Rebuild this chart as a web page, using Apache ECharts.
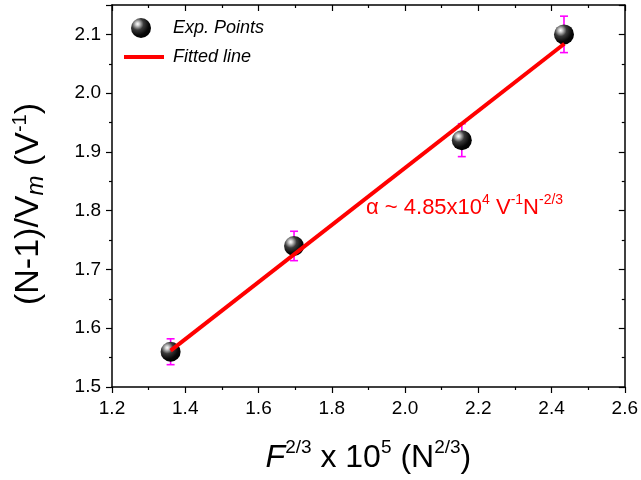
<!DOCTYPE html>
<html>
<head>
<meta charset="utf-8">
<script src="https://cdn.jsdelivr.net/npm/echarts@6/dist/echarts.min.js"></script>
<style>html,body{margin:0;padding:0;background:#fff}#c{width:641px;height:480px}</style>
</head>
<body>
<div id="c"></div>
<script>
// Data
var expX = [1.36, 1.697, 2.155, 2.434];
var expY = [1.56, 1.74, 1.92, 2.10];
var expErr = [0.022, 0.025, 0.028, 0.031];
var fitX = [1.36, 2.435];
var fitY = [1.562, 2.084];
var xTicks = [1.2, 1.4, 1.6, 1.8, 2.0, 2.2, 2.4, 2.6];
var yTicks = [1.5, 1.6, 1.7, 1.8, 1.9, 2.0, 2.1];

var FONT = 'Liberation Sans, Arial, sans-serif';
var chart = echarts.init(document.getElementById('c'), null, {renderer: 'canvas'});

var pts = expX.map(function (x, i) { return [x, expY[i]]; });
var errs = expX.map(function (x, i) { return [x, expY[i] - expErr[i], expY[i] + expErr[i]]; });
var fit = fitX.map(function (x, i) { return [x, fitY[i]]; });

var sphere = {
  type: 'radial', x: 0.33, y: 0.3, r: 0.75,
  colorStops: [
    {offset: 0, color: '#ffffff'},
    {offset: 0.12, color: '#d0d0d0'},
    {offset: 0.4, color: '#3a3a3a'},
    {offset: 0.75, color: '#080808'},
    {offset: 1, color: '#000000'}
  ]
};

var axisCommon = {
  type: 'value',
  axisLine: {show: true, onZero: false, lineStyle: {color: '#000', width: 1.5}},
  splitLine: {show: false}
};

var option = {
  animation: false,
  backgroundColor: '#fff',
  grid: {left: 112, right: 16, top: 5, bottom: 93, containLabel: false},
  xAxis: [
    Object.assign({}, axisCommon, {
      position: 'bottom', min: 1.2, max: 2.6, interval: 0.2,
      axisTick: {show: true, inside: false, length: 6, lineStyle: {color: '#000', width: 1.2}},
      minorTick: {show: true, splitNumber: 2, length: 3, lineStyle: {color: '#000', width: 1.2}},
      axisLabel: {show: true, margin: 12, color: '#000', fontSize: 19, fontFamily: FONT,
        formatter: function (v) { return v.toFixed(1); }},
      name: '{i|F}{sup|2/3}{n| x 10}{sup|5}{n| (N}{sup|2/3}{n|)}',
      nameLocation: 'middle', nameGap: 51,
      nameTextStyle: {
        color: '#000', fontFamily: FONT,
        rich: {
          n: {fontSize: 32, fontFamily: FONT, color: '#000', lineHeight: 36, verticalAlign: 'bottom'},
          i: {fontSize: 32, fontFamily: FONT, fontStyle: 'italic', color: '#000', lineHeight: 36, verticalAlign: 'bottom'},
          sup: {fontSize: 19, fontFamily: FONT, color: '#000', lineHeight: 20, verticalAlign: 'top'}
        }
      }
    }),
    Object.assign({}, axisCommon, {
      position: 'top', min: 1.2, max: 2.6, interval: 0.2,
      axisTick: {show: true, inside: true, length: 6, lineStyle: {color: '#000', width: 1.2}},
      minorTick: {show: true, splitNumber: 2, length: 3, lineStyle: {color: '#000', width: 1.2}},
      axisLabel: {show: false}
    })
  ],
  yAxis: [
    Object.assign({}, axisCommon, {
      position: 'left', min: 1.5, max: 2.15, interval: 0.1,
      axisTick: {show: true, inside: false, length: 6, lineStyle: {color: '#000', width: 1.2}},
      minorTick: {show: true, splitNumber: 2, length: 3, lineStyle: {color: '#000', width: 1.2}},
      axisLabel: {show: true, margin: 11, color: '#000', fontSize: 19, fontFamily: FONT,
        formatter: function (v) { return yTicks.some(function (t) { return Math.abs(t - v) < 1e-6; }) ? v.toFixed(1) : ''; }},
      name: '{n|(N-1)/V}{sub|m}{n| (V}{sup|-1}{n|)}',
      nameLocation: 'middle', nameGap: 64, nameRotate: 90,
      nameTextStyle: {
        color: '#000', fontFamily: FONT, padding: [0, 16, 0, 0],
        rich: {
          n: {fontSize: 34, fontFamily: FONT, color: '#000', lineHeight: 38, verticalAlign: 'middle'},
          sub: {fontSize: 24, fontFamily: FONT, fontStyle: 'italic', color: '#000', lineHeight: 22, verticalAlign: 'bottom'},
          sup: {fontSize: 20, fontFamily: FONT, color: '#000', lineHeight: 20, verticalAlign: 'top'}
        }
      }
    }),
    Object.assign({}, axisCommon, {
      position: 'right', min: 1.5, max: 2.15, interval: 0.1,
      axisTick: {show: true, inside: true, length: 6, lineStyle: {color: '#000', width: 1.2}},
      minorTick: {show: true, splitNumber: 2, length: 3, lineStyle: {color: '#000', width: 1.2}},
      axisLabel: {show: false}
    })
  ],
  legend: [
    {
      data: [{name: 'Exp. Points', icon: 'circle'}],
      left: 131, top: 18, itemWidth: 20, itemHeight: 20, padding: 0,
      selectedMode: false,
      textStyle: {fontSize: 18, fontStyle: 'italic', fontFamily: FONT, color: '#000', padding: [0, 0, 0, 17]}
    },
    {
      data: [{name: 'Fitted line', icon: 'rect'}],
      left: 124, top: 48, itemWidth: 40, itemHeight: 4, padding: 0,
      selectedMode: false,
      textStyle: {fontSize: 18, fontStyle: 'italic', fontFamily: FONT, color: '#000', padding: [0, 0, 0, 4]}
    }
  ],
  graphic: [{
    type: 'text', left: 366, top: 193, z: 10,
    style: {
      text: '{n|α ~ 4.85x10}{sup|4}{n| V}{sup|-1}{n|N}{sup|-2/3}',
      fill: '#ff0000', font: '22px ' + FONT,
      rich: {
        n: {fontSize: 22, fontFamily: FONT, fill: '#ff0000', lineHeight: 26, verticalAlign: 'bottom'},
        sup: {fontSize: 14, fontFamily: FONT, fill: '#ff0000', lineHeight: 14, verticalAlign: 'top'}
      }
    }
  }],
  series: [
    {
      name: 'err', type: 'custom', xAxisIndex: 0, yAxisIndex: 0, z: 1,
      data: errs, silent: true,
      renderItem: function (params, api) {
        var lo = api.coord([api.value(0), api.value(1)]);
        var hi = api.coord([api.value(0), api.value(2)]);
        var w = 4;
        var st = {stroke: '#ff00ff', lineWidth: 1.6};
        return {type: 'group', children: [
          {type: 'line', shape: {x1: lo[0], y1: lo[1], x2: hi[0], y2: hi[1]}, style: st},
          {type: 'line', shape: {x1: lo[0] - w, y1: lo[1], x2: lo[0] + w, y2: lo[1]}, style: st},
          {type: 'line', shape: {x1: hi[0] - w, y1: hi[1], x2: hi[0] + w, y2: hi[1]}, style: st}
        ]};
      }
    },
    {
      name: 'Exp. Points', type: 'scatter', xAxisIndex: 0, yAxisIndex: 0, z: 2,
      data: pts, symbol: 'circle', symbolSize: 20,
      itemStyle: {color: sphere, opacity: 1}
    },
    {
      name: 'Fitted line', type: 'line', xAxisIndex: 0, yAxisIndex: 0, z: 3,
      data: fit, showSymbol: false, symbol: 'none',
      lineStyle: {color: '#ff0000', width: 4},
      itemStyle: {color: '#ff0000'}
    }
  ]
};
chart.setOption(option);
</script>
</body>
</html>
